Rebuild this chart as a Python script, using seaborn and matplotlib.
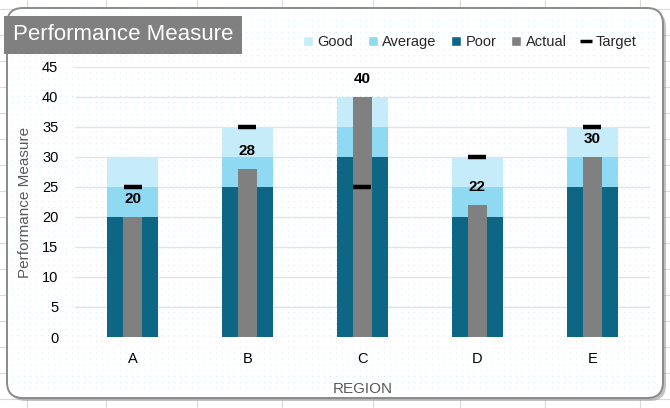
import matplotlib
matplotlib.use("Agg")
import pandas as pd
import seaborn as sns
import matplotlib.pyplot as plt
from matplotlib.patches import FancyBboxPatch, Patch
from matplotlib.lines import Line2D

regions = ["A", "B", "C", "D", "E"]
poor = [20, 25, 30, 20, 25]
average = [5, 5, 5, 5, 5]
good = [5, 5, 5, 5, 5]
actual = [20, 28, 40, 22, 30]
target = [25, 35, 25, 30, 35]
y_ticks = [0, 5, 10, 15, 20, 25, 30, 35, 40, 45]

c_good = "#C6ECFA"
c_avg = "#8FD9F3"
c_poor = "#0E6685"
c_actual = "#808080"

df = pd.DataFrame({"region": regions, "poor": poor, "average": average,
                   "good": good, "actual": actual, "target": target})
df["poor_top"] = df["poor"]
df["avg_top"] = df["poor"] + df["average"]
df["good_top"] = df["avg_top"] + df["good"]

sns.set_style("white")
plt.rcParams["font.family"] = ["Liberation Sans", "DejaVu Sans"]

fig = plt.figure(figsize=(6.7, 4.08), dpi=100)
fig.patch.set_facecolor("white")

# spreadsheet cells behind the card
bg = fig.add_axes([0, 0, 1, 1], zorder=-10)
bg.set_xlim(0, 670)
bg.set_ylim(408, 0)
bg.axis("off")
for yy in range(9, 408, 26):
    bg.axhline(yy, color="#DADADA", lw=0.8, zorder=0)
for xx in [27, 106, 197, 282, 373, 460, 545, 640]:
    bg.axvline(xx, color="#DADADA", lw=0.8, zorder=0)
shadow = FancyBboxPatch((10, 11), 656, 390, boxstyle="round,pad=0,rounding_size=16",
                        facecolor="#9A9A9A", edgecolor="none", alpha=0.6, zorder=1)
bg.add_patch(shadow)
card = FancyBboxPatch((7, 8), 656, 390, boxstyle="round,pad=0,rounding_size=16",
                      facecolor="white", edgecolor="#8A8A8A", lw=1.4, zorder=2)
bg.add_patch(card)
for xx in range(12, 660, 6):
    bg.plot([xx, xx], [14, 392], color="#C4E7F5", lw=0.7,
            linestyle=(0, (0.8, 5.2)), zorder=3)

ax = fig.add_axes([0.112, 0.174, 0.858, 0.662])
ax.patch.set_alpha(0)

bar_kw = dict(saturation=1, linewidth=0, ax=ax, zorder=2)
sns.barplot(data=df, x="region", y="good_top", color=c_good, width=0.45, **bar_kw)
sns.barplot(data=df, x="region", y="avg_top", color=c_avg, width=0.45, **bar_kw)
sns.barplot(data=df, x="region", y="poor_top", color=c_poor, width=0.45, **bar_kw)
sns.barplot(data=df, x="region", y="actual", color=c_actual, width=0.17,
            saturation=1, linewidth=0, ax=ax, zorder=3)
sns.scatterplot(data=df, x="region", y="target", marker="_", s=170,
                color="black", linewidth=3.2, ax=ax, zorder=4)

for i, v in enumerate(actual):
    ax.annotate(str(v), (i, v), xytext=(0, 13), textcoords="offset points",
                ha="center", va="center", fontsize=11, fontweight="bold",
                color="black", zorder=5)

ax.set_xlim(-0.5, 4.5)
ax.set_ylim(0, 45)
ax.set_yticks(y_ticks)
ax.yaxis.grid(True, color="#E3E3E3", lw=1)
ax.set_axisbelow(True)
for s in ax.spines.values():
    s.set_visible(False)
ax.tick_params(axis="both", length=0, labelsize=10.5, colors="black")
ax.tick_params(axis="y", pad=12)
ax.tick_params(axis="x", pad=11)
ax.set_xlabel("REGION", color="#595959", fontsize=11, labelpad=11)
ax.set_ylabel("Performance Measure", color="#595959", fontsize=11, labelpad=7)

fig.text(0.019, 0.915, "Performance Measure", fontsize=16, color="white",
         ha="left", va="center",
         bbox=dict(boxstyle="square,pad=0.38", facecolor="#808080", edgecolor="none"))

handles = [Patch(facecolor=c_good, label="Good"),
           Patch(facecolor=c_avg, label="Average"),
           Patch(facecolor=c_poor, label="Poor"),
           Patch(facecolor=c_actual, label="Actual"),
           Line2D([], [], color="black", marker="_", linestyle="none",
                  markersize=9, markeredgewidth=2.5, label="Target")]
fig.legend(handles=handles, loc="center right", bbox_to_anchor=(0.97, 0.897),
           ncol=5, frameon=False, fontsize=10.5, handlelength=0.7,
           handleheight=0.7, handletextpad=0.3, columnspacing=1.0)

fig.savefig("out.png", dpi=100)
